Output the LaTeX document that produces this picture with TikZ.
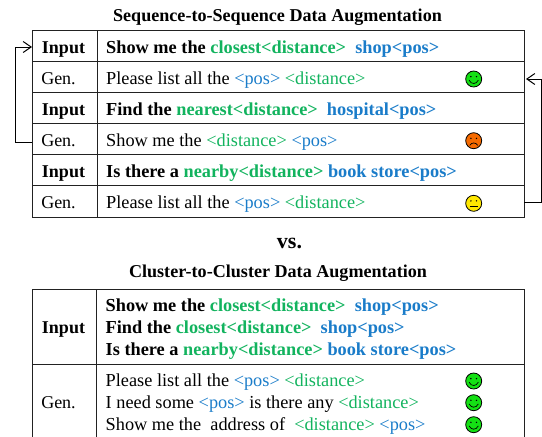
\documentclass[tikz,border=0pt]{standalone}
\usepackage{fontspec}
\setmainfont{Liberation Serif}
\usetikzlibrary{arrows.meta}
\definecolor{dgreen}{HTML}{12B35E}
\definecolor{pblue}{HTML}{1A7CC9}
\definecolor{sgreen}{HTML}{14E014}
\definecolor{sorange}{HTML}{F56A00}
\definecolor{syellow}{HTML}{FFE800}
\definecolor{frame}{HTML}{222222}
\newcommand{\dst}[1]{\textcolor{dgreen}{#1}}
\newcommand{\psn}[1]{\textcolor{pblue}{#1}}
\newcommand{\dtag}{\dst{<distance>}}
\newcommand{\ptag}{\psn{<pos>}}
\newcommand{\sface}[4]{% name, x, y, colour
  \node[smile,fill=#4] (#1) at (#2,#3) {};
  \fill (#2-2.8,#3-2.4) circle (0.8);
  \fill (#2+2.8,#3-2.4) circle (0.8);
}
\tikzset{
  x=1pt,y=-1pt,
  cell/.style={draw=frame,line width=1pt,rectangle,inner sep=0pt,outer sep=0pt},
  rowA/.style={cell,anchor=north west,minimum width=65pt,minimum height=31.17pt},
  rowB/.style={cell,anchor=north west,minimum width=427pt,minimum height=31.17pt},
  lab/.style={anchor=base,inner sep=0pt,font=\fontsize{18}{20}\selectfont},
  bodytext/.style={anchor=base west,inner sep=0pt,font=\fontsize{18.3}{20}\selectfont},
  head/.style={anchor=base,inner sep=0pt,font=\fontsize{18.1}{20}\selectfont\bfseries},
  smile/.style={circle,draw=black,line width=0.8pt,minimum size=16pt,inner sep=0pt},
  facel/.style={line width=0.7pt,black},
  loopline/.style={draw=black,line width=1pt,-{Straight Barb[length=8pt,width=11pt,line width=1pt]}},
}
\begin{document}
\begin{tikzpicture}
\useasboundingbox (0,0) rectangle (542,437);
\node[head] (t1) at (277.5,21) {Sequence-to-Sequence Data Augmentation};
% first table
\foreach \n/\yy in {1/30,2/61.17,3/92.33,4/123.5,5/154.67,6/185.83}{
  \node[rowA] (a\n) at (32,\yy) {};
  \node[rowB] (b\n) at (97,\yy) {};
}
\node[lab] (l1) at (63.5,53) {\bfseries Input};
\node[lab] (l2) at (58.5,84) {Gen.};
\node[lab] (l3) at (63.5,115) {\bfseries Input};
\node[lab] (l4) at (58.5,146) {Gen.};
\node[lab] (l5) at (63.5,177) {\bfseries Input};
\node[lab] (l6) at (58.5,208) {Gen.};
\node[bodytext] (s1) at (106,53) {\bfseries Show me the \dst{closest<distance>}\ \ \psn{shop<pos>}};
\node[bodytext] (s2) at (106,84) {Please list all the \ptag\ \dtag};
\node[bodytext] (s3) at (106,115) {\bfseries Find the \dst{nearest<distance>}\ \ \psn{hospital<pos>}};
\node[bodytext] (s4) at (106,146) {Show me the \dtag\ \ptag};
\node[bodytext] (s5) at (106,177) {\bfseries Is there a \dst{nearby<distance>} \psn{book store<pos>}};
\node[bodytext] (s6) at (106,208) {Please list all the \ptag\ \dtag};
% faces
\sface{f1}{473.7}{79}{sgreen}
\draw[facel] (473.7-4.6,79+1.2) .. controls (473.7-2.5,79+5.6) and (473.7+2.5,79+5.6) .. (473.7+4.6,79+1.2);
\sface{f2}{473.7}{140.7}{sorange}
\draw[facel] (473.7-4,140.7+4.6) .. controls (473.7-2,140.7+1.5) and (473.7+2,140.7+1.5) .. (473.7+4,140.7+4.6);
\sface{f3}{473.7}{203.3}{syellow}
\draw[facel] (473.7-3.8,203.3+3) -- (473.7+3.8,203.3+3);
% feedback loops
\coordinate (la) at (15,47);
\coordinate (lb) at (541,79);
\coordinate (lc) at (15,142);
\coordinate (ld) at (541,202);
\draw[loopline] (a4.west |- lc) -- (lc) -- (la) -- (a1.west |- la);
\draw[loopline] (b6.east |- ld) -- (ld) -- (lb) -- (526,79);
% divider
\node[anchor=base,inner sep=0pt,font=\fontsize{22}{24}\selectfont\bfseries] (vs) at (289.5,248) {vs.};
\node[head] (t2) at (278,277) {Cluster-to-Cluster Data Augmentation};
% second table
\node[cell,anchor=north west,minimum width=64.5pt,minimum height=75pt] (c1) at (32,289) {};
\node[cell,anchor=north west,minimum width=427.5pt,minimum height=75pt] (d1) at (96.5,289) {};
\coordinate (e1) at (32,440);
\coordinate (e2) at (96.5,440);
\coordinate (e3) at (524,440);
\draw[frame,line width=1pt] (c1.south west) -- (e1);
\draw[frame,line width=1pt] (c1.south east) -- (e2);
\draw[frame,line width=1pt] (d1.south east) -- (e3);
\node[lab] (m1) at (63.5,333) {\bfseries Input};
\node[lab] (m2) at (58.5,408) {Gen.};
\node[bodytext] (u1) at (105.5,311) {\bfseries Show me the \dst{closest<distance>}\ \ \psn{shop<pos>}};
\node[bodytext] (u2) at (105.5,333) {\bfseries Find the \dst{closest<distance>}\ \ \psn{shop<pos>}};
\node[bodytext] (u3) at (105.5,355) {\bfseries Is there a \dst{nearby<distance>} \psn{book store<pos>}};
\node[bodytext] (v1) at (105.5,386) {Please list all the \ptag\ \dtag};
\node[bodytext] (v2) at (105.5,408) {I need some \ptag\ is there any \dtag};
\node[bodytext] (v3) at (105.5,430) {Show me the\ \ address of\ \ \dtag\ \ptag};
\foreach \n/\yy in {4/381,5/402.7,6/424.7}{
  \sface{f\n}{473.7}{\yy}{sgreen}
  \draw[facel] (473.7-4.6,\yy+1.2) .. controls (473.7-2.5,\yy+5.6) and (473.7+2.5,\yy+5.6) .. (473.7+4.6,\yy+1.2);
}
\end{tikzpicture}
\end{document}
